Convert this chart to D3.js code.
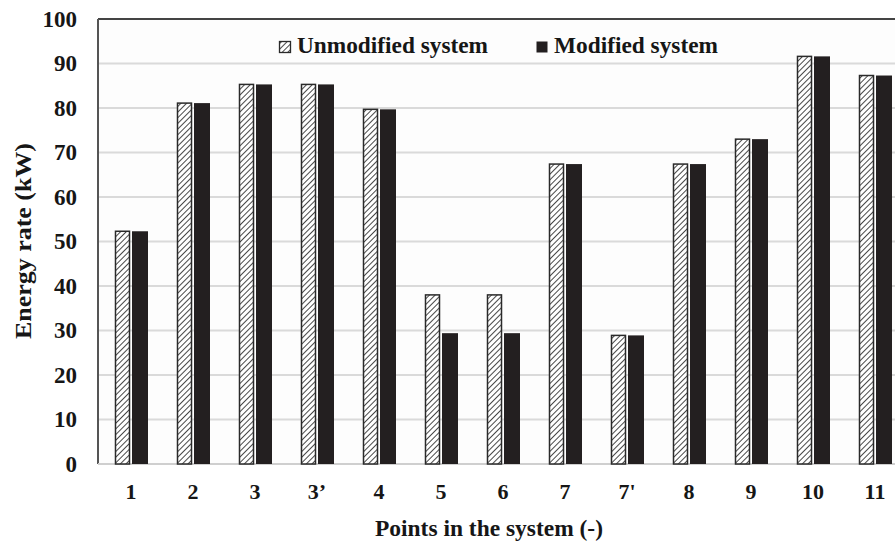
<!DOCTYPE html>
<html>
<head>
<meta charset="utf-8">
<script src="https://cdn.jsdelivr.net/npm/d3@7/dist/d3.min.js"></script>
<style>
  html, body { margin: 0; padding: 0; background: #ffffff; }
  svg { display: block; }
  text { font-family: "Liberation Serif", "Times New Roman", serif; font-weight: bold; }
</style>
</head>
<body>
<svg id="chart" width="895" height="543"></svg>
<script>
// Energy rate at each point of the system
const categories = ["1", "2", "3", "3\u2019", "4", "5", "6", "7", "7'", "8", "9", "10", "11"];
const unmodified = [52.3, 81.1, 85.3, 85.3, 79.7, 38.0, 38.0, 67.4, 28.9, 67.4, 73.0, 91.6, 87.3];
const modified   = [52.3, 81.1, 85.3, 85.3, 79.7, 29.4, 29.4, 67.4, 28.9, 67.4, 73.0, 91.6, 87.3];
const yTicks = [0, 10, 20, 30, 40, 50, 60, 70, 80, 90, 100];
const seriesNames = ["Unmodified system", "Modified system"];

const ink = "#161616";
const svg = d3.select("#chart");
const plot = { left: 98, top: 19, right: 906, bottom: 464 };

const x = d3.scaleBand().domain(categories).range([plot.left + 2, plot.left + 2 + 62 * categories.length]).padding(0);
const y = d3.scaleLinear().domain([0, 100]).range([plot.bottom, plot.top]);

// hatch pattern for the unmodified series
const defs = svg.append("defs");
const pat = defs.append("pattern")
  .attr("id", "hatch").attr("patternUnits", "userSpaceOnUse")
  .attr("width", 4).attr("height", 4)
  .attr("patternTransform", "rotate(45)");
pat.append("rect").attr("width", 4).attr("height", 4).attr("fill", "#ffffff");
pat.append("line").attr("x1", 0).attr("y1", 0).attr("x2", 0).attr("y2", 4)
  .attr("stroke", "#333").attr("stroke-width", 1.8);

// plot background
svg.append("rect").attr("x", plot.left).attr("y", plot.top)
  .attr("width", plot.right - plot.left).attr("height", plot.bottom - plot.top)
  .attr("fill", "#fdfdfd");

// gridlines
svg.append("g").selectAll("line").data(yTicks.filter(d => d > 0 && d < 100)).join("line")
  .attr("x1", plot.left).attr("x2", plot.right)
  .attr("y1", d => y(d)).attr("y2", d => y(d))
  .attr("stroke", "#dadada").attr("stroke-width", 2);

// frame: dark top and left, light bottom axis
svg.append("line").attr("x1", plot.left).attr("x2", plot.right)
  .attr("y1", plot.top).attr("y2", plot.top).attr("stroke", "#444").attr("stroke-width", 2);
svg.append("line").attr("x1", plot.left).attr("x2", plot.left)
  .attr("y1", plot.top).attr("y2", plot.bottom).attr("stroke", "#555").attr("stroke-width", 2);
svg.append("line").attr("x1", plot.left).attr("x2", plot.right)
  .attr("y1", plot.bottom).attr("y2", plot.bottom).attr("stroke", "#cfcfcf").attr("stroke-width", 2);

// bars
const barW = 15, gap = 2;
const groups = svg.append("g").selectAll("g").data(categories).join("g")
  .attr("transform", d => `translate(${x(d) + x.bandwidth() / 2},0)`);

groups.append("rect")
  .attr("x", -barW - gap / 2 + 0.5)
  .attr("y", (d, i) => y(unmodified[i]))
  .attr("width", barW - 1)
  .attr("height", (d, i) => y(0) - y(unmodified[i]))
  .attr("fill", "url(#hatch)").attr("stroke", "#2a2a2a").attr("stroke-width", 1.5);

groups.append("rect")
  .attr("x", gap / 2)
  .attr("y", (d, i) => y(modified[i]))
  .attr("width", barW + 1)
  .attr("height", (d, i) => y(0) - y(modified[i]))
  .attr("fill", "#231f20");

// y axis labels
const yAxis = d3.axisLeft(y).tickValues(yTicks).tickSize(0).tickPadding(21);
const yg = svg.append("g").attr("transform", `translate(${plot.left},0)`).call(yAxis);
yg.select(".domain").remove();
yg.selectAll("text").attr("font-size", 23).attr("fill", ink)
  .style("font-family", "Liberation Serif, serif").style("font-weight", "bold");

// x axis labels
const xAxis = d3.axisBottom(x).tickSize(0).tickPadding(19);
const xg = svg.append("g").attr("transform", `translate(0,${plot.bottom})`).call(xAxis);
xg.select(".domain").remove();
xg.selectAll("text").attr("font-size", 22).attr("fill", ink)
  .style("font-family", "Liberation Serif, serif").style("font-weight", "bold");

// axis titles
svg.append("text").attr("x", 489).attr("y", 536).attr("text-anchor", "middle")
  .attr("font-size", 23.5).attr("fill", ink)
  .attr("textLength", 228).attr("lengthAdjust", "spacingAndGlyphs")
  .text("Points in the system (-)");
svg.append("text").attr("transform", "translate(31,241) rotate(-90)").attr("text-anchor", "middle")
  .attr("font-size", 24).attr("fill", ink)
  .attr("textLength", 196).attr("lengthAdjust", "spacingAndGlyphs")
  .text("Energy rate (kW)");

// legend
const legend = svg.append("g");
const lx = [279, 536];
const lw = [191, 164];
seriesNames.forEach((name, i) => {
  legend.append("rect").attr("x", lx[i] + 0.5).attr("y", 41.5).attr("width", 11).attr("height", 11)
    .attr("fill", i === 0 ? "url(#hatch)" : "#231f20")
    .attr("stroke", i === 0 ? "#2a2a2a" : "none").attr("stroke-width", 1.3);
  legend.append("text").attr("x", lx[i] + 18).attr("y", 53).attr("font-size", 23.5).attr("fill", ink)
    .attr("textLength", lw[i]).attr("lengthAdjust", "spacingAndGlyphs")
    .text(name);
});
</script>
</body>
</html>
